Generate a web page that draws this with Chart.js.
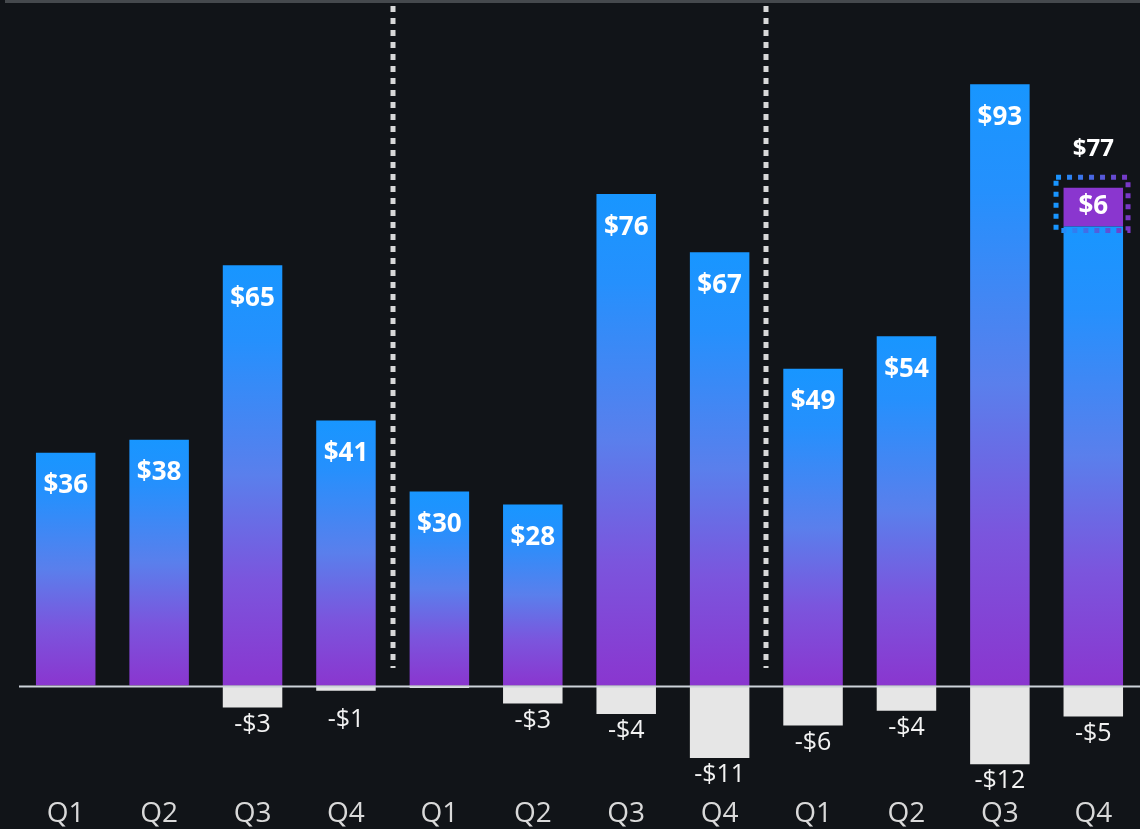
<!DOCTYPE html>
<html>
<head>
<meta charset="utf-8">
<script src="https://cdn.jsdelivr.net/npm/chart.js"></script>
<style>
  html, body { margin:0; padding:0; background:#111418; }
  #wrap { width:1140px; height:829px; position:relative; }
</style>
</head>
<body>
<div id="wrap"><canvas id="revChart"></canvas></div>
<script>
// quarters, three years side by side
const quarters = ["Q1","Q2","Q3","Q4","Q1","Q2","Q3","Q4","Q1","Q2","Q3","Q4"];
const positive = [36, 38, 65, 41, 30, 28, 76, 67, 49, 54, 93, 71];
const negative = [0, 0, -3.4, -0.8, -0.4, -2.8, -4.4, -11.2, -6.2, -3.9, -12.2, -4.8];
const extra    = [null, null, null, null, null, null, null, null, null, null, null, 6];
const yearBreaks = [3, 7]; // dotted line after these indexes

const BLUE = "#1896ff", PURPLE = "#8a36cf";
const FONT = "'Open Sans', 'Noto Sans', sans-serif";

function barGradient(ctx){
  const chart = ctx.chart;
  if (!chart.chartArea || ctx.type !== "data") return BLUE;
  const y = chart.scales.y;
  const top = y.getPixelForValue(ctx.raw);
  const base = y.getPixelForValue(0);
  const g = chart.ctx.createLinearGradient(0, top, 0, base);
  g.addColorStop(0, "#1896ff");
  g.addColorStop(0.18, "#2590fd");
  g.addColorStop(0.5, "#5a7fec");
  g.addColorStop(0.75, "#7b55dd");
  g.addColorStop(1, "#8a36cf");
  return g;
}

const decorPlugin = {
  id: "decor",
  beforeDatasetsDraw(chart){
    const c = chart.ctx, x = chart.scales.x;
    c.save();
    // top strip
    c.fillStyle = "#45494d";
    c.fillRect(5, 0, chart.width - 5, 3);
    // dotted year separators
    c.strokeStyle = "#d8d8d8";
    c.lineWidth = 5;
    c.setLineDash([6, 6]);
    yearBreaks.forEach(i => {
      const px = Math.round((x.getPixelForValue(i) + x.getPixelForValue(i + 1)) / 2);
      c.beginPath();
      c.moveTo(px, 6);
      c.lineTo(px, 668);
      c.stroke();
    });
    c.restore();
  },
  afterDatasetsDraw(chart){
    const c = chart.ctx, y = chart.scales.y, area = chart.chartArea;
    c.save();
    // zero line
    const zy = y.getPixelForValue(0);
    c.fillStyle = "#cdd3da";
    c.fillRect(area.left, zy, area.right - area.left, 2);

    c.textAlign = "center";
    c.textBaseline = "middle";
    c.fillStyle = "#ffffff";

    const posMeta = chart.getDatasetMeta(0);
    const negMeta = chart.getDatasetMeta(1);
    const extMeta = chart.getDatasetMeta(2);

    c.font = "bold 26px " + FONT;
    posMeta.data.forEach((el, i) => {
      if (extra[i] != null) return;
      c.fillText("$" + positive[i], el.x, el.y + 33);
    });

    c.font = "25px " + FONT;
    c.fillStyle = "#f2f2f2";
    negMeta.data.forEach((el, i) => {
      const v = Math.round(Math.abs(negative[i]));
      if (!v) return;
      c.fillText("-$" + v, el.x, Math.max(el.y + 17, zy + 34));
    });

    extMeta.data.forEach((el, i) => {
      if (extra[i] == null) return;
      const top = el.y, bottom = el.base;
      const half = el.width / 2;
      // dotted highlight box
      const g = c.createLinearGradient(el.x - half - 8, 0, el.x + half + 6, 0);
      g.addColorStop(0, "#1896ff");
      g.addColorStop(1, "#7a36c4");
      c.strokeStyle = g;
      c.lineWidth = 5;
      c.setLineDash([5, 6]);
      c.strokeRect(el.x - half - 7.5, top - 10.5, el.width + 12.5, bottom - top + 14.5);
      c.setLineDash([]);
      c.fillStyle = "#ffffff";
      c.font = "bold 26px " + FONT;
      c.fillText("$" + extra[i], el.x, (top + bottom) / 2);
      c.font = "bold 24px " + FONT;
      c.fillText("$" + (positive[i] + extra[i]), el.x, top - 38);
    });
    c.restore();
  }
};

new Chart(document.getElementById("revChart"), {
  type: "bar",
  data: {
    labels: quarters,
    datasets: [
      { label: "Positive", data: positive, backgroundColor: barGradient, borderWidth: 0 },
      { label: "Negative", data: negative, backgroundColor: "#e6e6e6", borderWidth: 0 },
      { label: "Extra", data: extra, backgroundColor: PURPLE, borderWidth: 0 }
    ]
  },
  options: {
    responsive: true,
    maintainAspectRatio: false,
    animation: false,
    layout: { padding: { top: 3, left: 19, right: 0, bottom: -6 } },
    datasets: { bar: { barPercentage: 0.637, categoryPercentage: 1 } },
    plugins: { legend: { display: false }, tooltip: { enabled: false } },
    scales: {
      x: {
        stacked: true,
        grid: { display: false, drawTicks: false },
        border: { display: false },
        ticks: { color: "#d9d9d9", font: { family: FONT, size: 28 }, padding: 4, maxRotation: 0, autoSkip: false }
      },
      y: {
        stacked: true,
        min: -16.69,
        max: 105.56,
        grid: { display: false, drawTicks: false },
        border: { display: false },
        ticks: { display: false }
      }
    }
  },
  plugins: [decorPlugin]
});
</script>
</body>
</html>
